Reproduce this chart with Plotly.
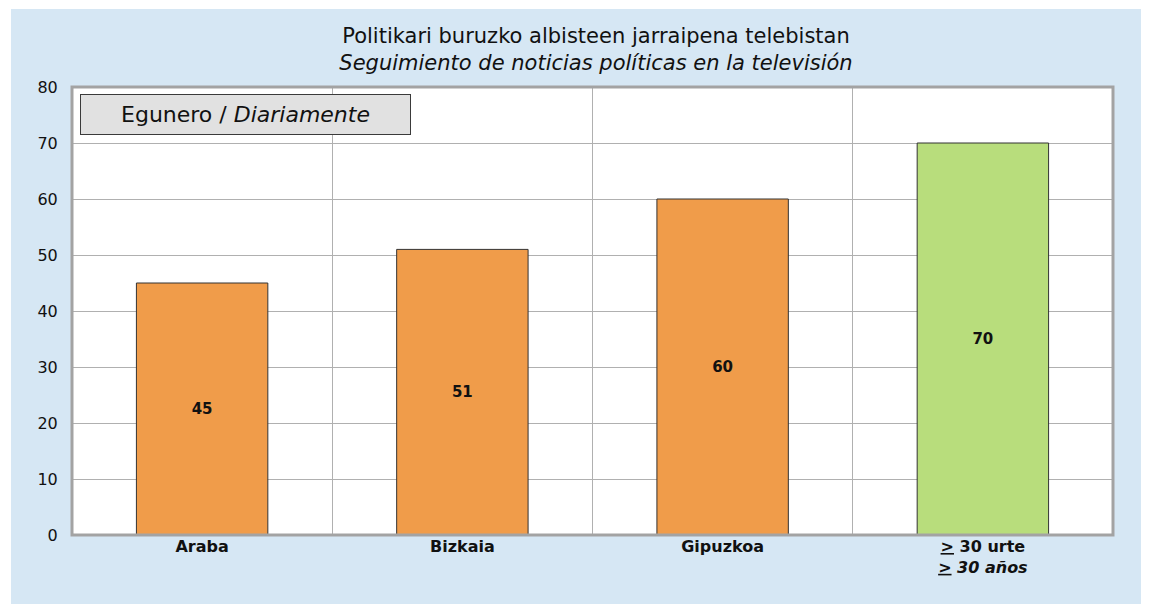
import plotly.graph_objects as go

categories = ["Araba", "Bizkaia", "Gipuzkoa", "<u>></u> 30 urte<br><i><u>></u> 30 años</i>"]
values = [45, 51, 60, 70]
bar_colors = ["#f09c4a", "#f09c4a", "#f09c4a", "#b8dd7c"]
y_ticks = [0, 10, 20, 30, 40, 50, 60, 70, 80]

# the page body adds an 8px margin, so figure coords = reference coords - 8
OFF = 8
W, H = 1149 - OFF, 604 - OFF
L, R, T, B = 72 - OFF, 1113 - OFF, 87 - OFF, 535 - OFF
FONT = "DejaVu Sans, Arial, sans-serif"
BLUE = "#d6e7f4"

fig = go.Figure()
fig.add_trace(go.Bar(
    x=categories, y=values,
    marker=dict(color=bar_colors, line=dict(color="#333333", width=1)),
    width=0.505,
    text=[f"<b>{v}</b>" for v in values],
    textposition="inside", insidetextanchor="middle", textangle=0,
    textfont=dict(family=FONT, size=15, color="#111111"),
    hoverinfo="x+y",
))

def px(xp):
    return (xp - OFF - L) / (R - L)

def py(yp):
    return (B - (yp - OFF)) / (B - T)

fig.update_layout(
    width=W, height=H,
    margin=dict(l=L, r=W - R, t=T, b=H - B, pad=0),
    paper_bgcolor=BLUE, plot_bgcolor="white",
    font=dict(family=FONT, color="#111111"),
    showlegend=False,
    title=dict(
        text="Politikari buruzko albisteen jarraipena telebistan<br><i>Seguimiento de noticias políticas en la televisión</i>",
        x=(596 - OFF) / W, xanchor="center",
        y=1 - 35 / H, yanchor="top", yref="container",
        font=dict(family=FONT, size=21, color="#111111"),
    ),
    xaxis=dict(
        type="category", tickson="boundaries", showgrid=True,
        gridcolor="#b0b0b0", gridwidth=1, ticks="outside", ticklen=6,
        tickcolor="rgba(0,0,0,0)", showline=False, zeroline=False,
        tickfont=dict(family=FONT, size=16, color="#111111"),
        tickprefix="<b>", ticksuffix="</b>",
        range=[-0.5, 3.5],
    ),
    yaxis=dict(
        range=[0, 80], tickvals=y_ticks, showgrid=True, gridcolor="#b0b0b0", gridwidth=1,
        zeroline=False, showline=False, ticks="outside", ticklen=10, tickcolor="rgba(0,0,0,0)",
        tickfont=dict(family=FONT, size=16, color="#111111"),
    ),
    bargap=0.5,
)

# thin white page margin at left and top of the blue panel
fig.add_shape(type="rect", xref="paper", yref="paper", layer="below",
              x0=px(0), x1=px(11), y0=py(620), y1=py(0),
              fillcolor="white", line=dict(width=0))
fig.add_shape(type="rect", xref="paper", yref="paper", layer="below",
              x0=px(0), x1=px(1160), y0=py(9), y1=py(0),
              fillcolor="white", line=dict(width=0))
# plot frame
fig.add_shape(type="rect", xref="paper", yref="paper", layer="above",
              x0=0, x1=1, y0=0, y1=1, fillcolor="rgba(0,0,0,0)",
              line=dict(color="#a3a3a3", width=3))

# box label
fig.add_annotation(
    xref="paper", yref="paper", x=px(80), y=py(94), xanchor="left", yanchor="top",
    text="Egunero / <i>Diariamente</i>", showarrow=False,
    font=dict(family=FONT, size=22, color="#111111"),
    bgcolor="#e1e1e1", bordercolor="#3a3a3a", borderwidth=1, borderpad=0,
    width=329, height=39, align="center", valign="middle",
)

fig.write_html("out.html")
